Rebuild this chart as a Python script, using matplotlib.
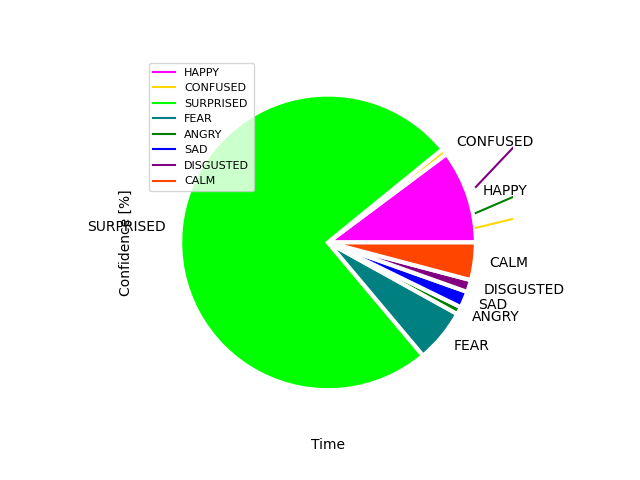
import matplotlib.pyplot as plt
from matplotlib.lines import Line2D

emotions = ["HAPPY", "CONFUSED", "SURPRISED", "FEAR", "ANGRY", "SAD", "DISGUSTED", "CALM"]
confidence = [10.2, 0.67, 75.2, 5.83, 0.83, 1.78, 1.33, 4.11]
colors = ["magenta", "gold", "lime", "teal", "green", "blue", "purple", "orangered"]

# time series that stay visible next to the pie
time = [1, 2]
confused_series = [0.098, 0.342]
angry_series = [0.199, 0.63]
disgusted_series = [0.375, 1.43]

fig, ax = plt.subplots(figsize=(6.4, 4.8), dpi=100)

ax.plot(time, confused_series, color="gold")
ax.plot(time, angry_series, color="green")
ax.plot(time, disgusted_series, color="purple")

ax.pie(confidence, labels=emotions, colors=colors,
       wedgeprops={"edgecolor": "white", "linewidth": 3})

handles = [Line2D([], [], color=c) for c in colors]
ax.legend(handles, emotions, loc="upper left", fontsize=8)
ax.set_xlabel("Time", labelpad=7.5)
ax.set_ylabel("Confidence [%]", labelpad=7.5)

plt.savefig("out.png")
